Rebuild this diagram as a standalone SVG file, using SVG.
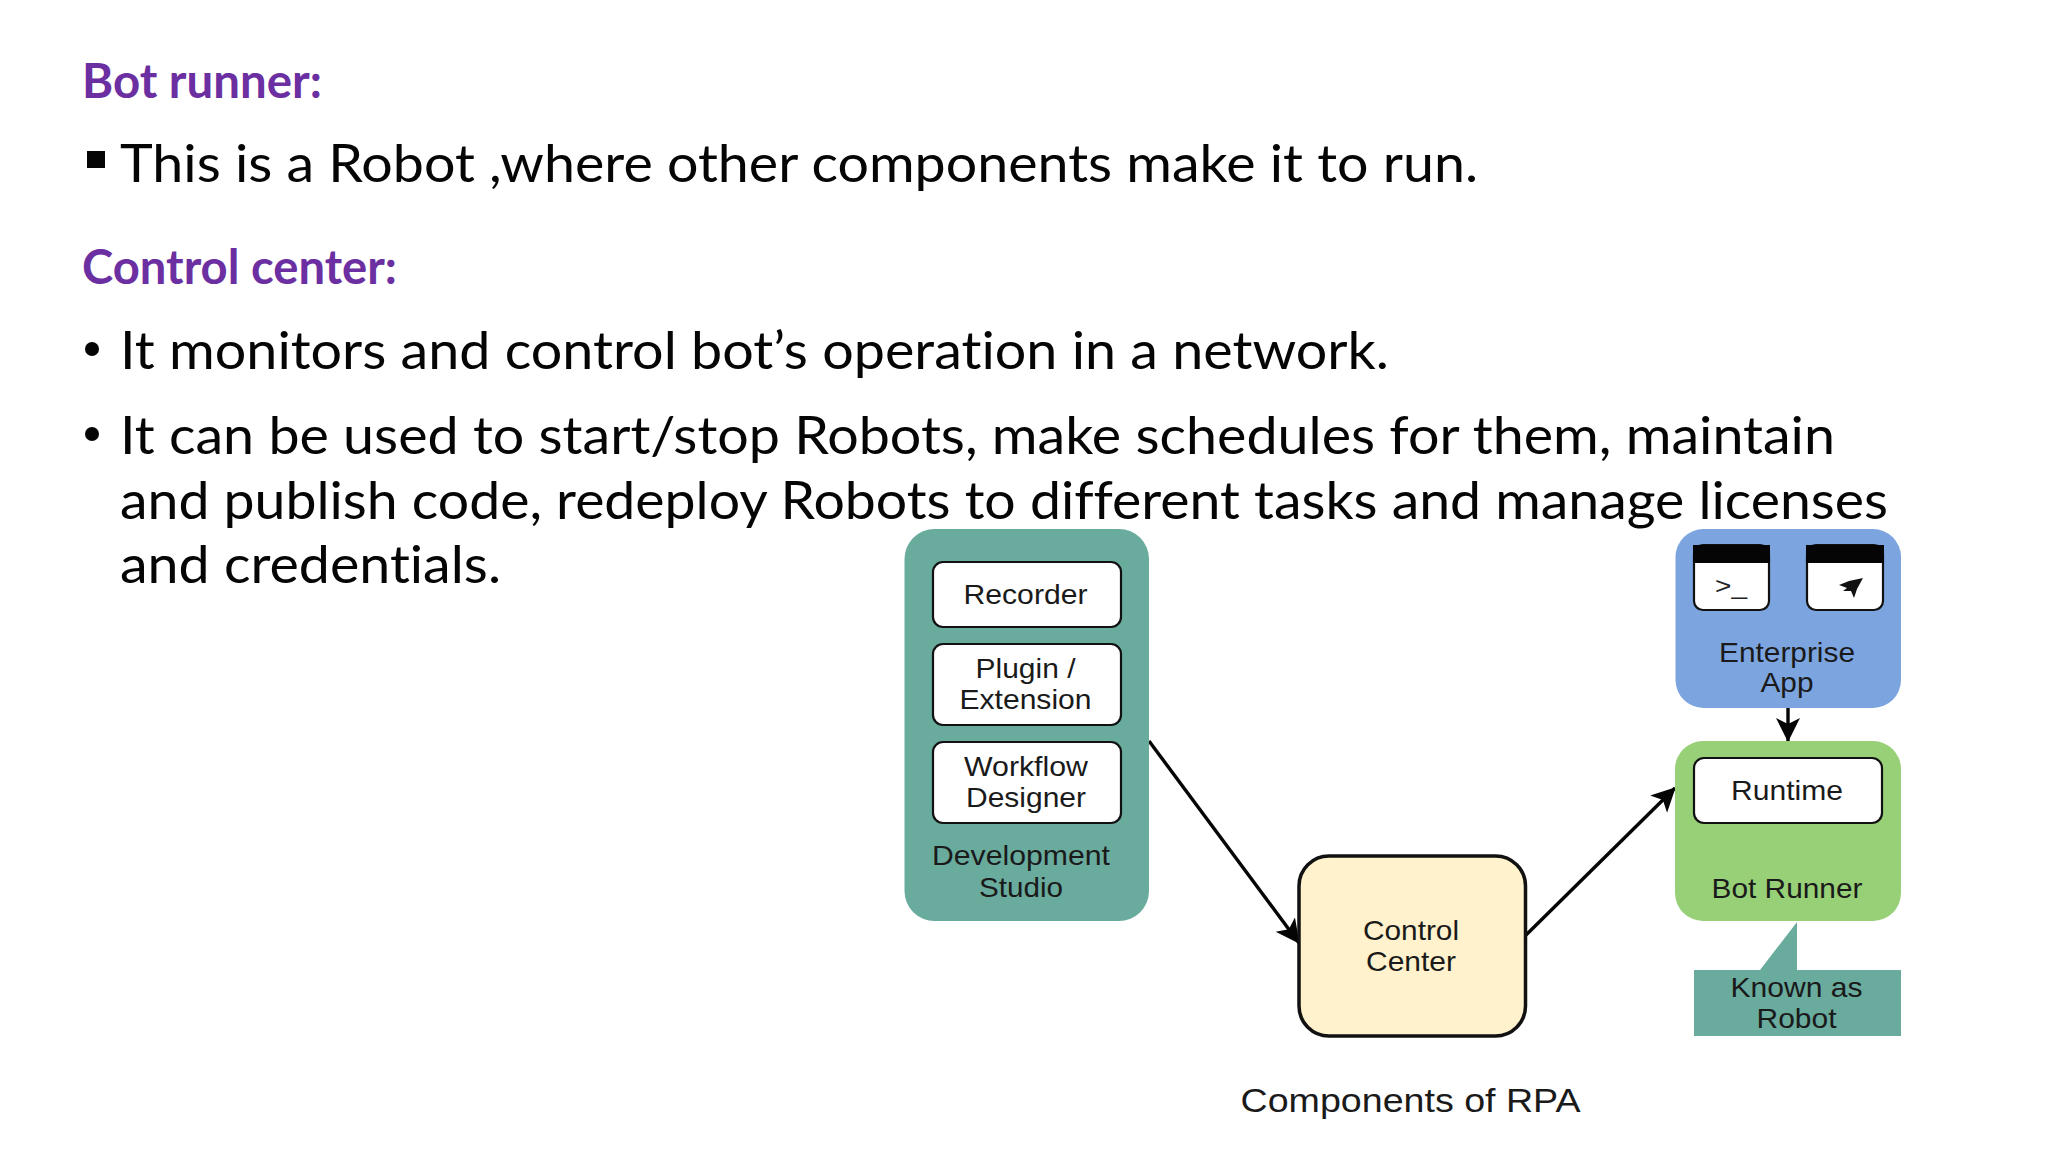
<svg xmlns="http://www.w3.org/2000/svg" width="2048" height="1152" viewBox="0 0 2048 1152">
<style>
.h{font-family:Lato,"Open Sans",sans-serif;font-weight:700;font-size:47px;fill:#6B2FA2;font-variant-ligatures:none}
.b{font-family:Lato,"Open Sans",sans-serif;font-size:53px;fill:#050505;font-variant-ligatures:none}
.t{font-family:"Liberation Sans",Arial,sans-serif;font-size:28.5px;fill:#1a1a1a;text-anchor:middle}
.w{fill:#fff;stroke:#111;stroke-width:2.2}
.c{fill:none;stroke:#050505;stroke-width:3.4}
</style>
<defs>
<marker id="a" markerUnits="userSpaceOnUse" markerWidth="28" markerHeight="26" refX="23" refY="12" orient="auto"><path d="M0 0L24 12L0 24L6 12Z" fill="#050505"/></marker>
</defs>
<rect width="2048" height="1152" fill="#fff"/>
<g id="text-content">
<text class="h" x="82" y="98" textLength="240" lengthAdjust="spacingAndGlyphs">Bot runner:</text>
<rect x="87" y="151" width="18" height="17" fill="#050505"/>
<text class="b" x="120" y="182" textLength="1358" lengthAdjust="spacingAndGlyphs">This is a Robot ,where other components make it to run.</text>
<text class="h" x="82" y="284" textLength="315" lengthAdjust="spacingAndGlyphs">Control center:</text>
<circle cx="92" cy="349" r="7" fill="#050505"/>
<text class="b" x="120" y="369" textLength="1269" lengthAdjust="spacingAndGlyphs">It monitors and control bot’s operation in a network.</text>
<circle cx="92" cy="434" r="7" fill="#050505"/>
<text class="b" x="120" y="454" textLength="1715" lengthAdjust="spacingAndGlyphs">It can be used to start/stop Robots, make schedules for them, maintain</text>
<text class="b" x="120" y="519" textLength="1768" lengthAdjust="spacingAndGlyphs">and publish code, redeploy Robots to different tasks and manage licenses</text>
<text class="b" x="120" y="583" textLength="381" lengthAdjust="spacingAndGlyphs">and credentials.</text>
</g>
<g id="connectors">
<line class="c" x1="1149" y1="741" x2="1299" y2="943" marker-end="url(#a)"/>
<line class="c" x1="1526" y1="935" x2="1675" y2="788" marker-end="url(#a)"/>
<line class="c" x1="1788" y1="708" x2="1788" y2="741" marker-end="url(#a)"/>
</g>
<g id="development-studio">
<rect x="904.500" y="529" width="244.500" height="392" rx="30" fill="#69AB9D"/>
<rect class="w" x="933" y="562" width="188" height="65" rx="10"/>
<text class="t" x="1025.500" y="604" textLength="124" lengthAdjust="spacingAndGlyphs">Recorder</text>
<rect class="w" x="933" y="644" width="188" height="81" rx="10"/>
<text class="t" x="1025.500" y="678" textLength="100" lengthAdjust="spacingAndGlyphs">Plugin /</text>
<text class="t" x="1025.500" y="709" textLength="132" lengthAdjust="spacingAndGlyphs">Extension</text>
<rect class="w" x="933" y="742" width="188" height="81" rx="10"/>
<text class="t" x="1026" y="776" textLength="124" lengthAdjust="spacingAndGlyphs">Workflow</text>
<text class="t" x="1026" y="807" textLength="120" lengthAdjust="spacingAndGlyphs">Designer</text>
<text class="t" x="1021" y="865" textLength="178" lengthAdjust="spacingAndGlyphs">Development</text>
<text class="t" x="1021" y="897" textLength="84" lengthAdjust="spacingAndGlyphs">Studio</text>
</g>
<g id="control-center">
<rect x="1299" y="856" width="226.500" height="180" rx="30" fill="#FFF2CC" stroke="#111" stroke-width="3.500"/>
<text class="t" x="1411" y="940" textLength="96" lengthAdjust="spacingAndGlyphs">Control</text>
<text class="t" x="1411" y="971" textLength="90" lengthAdjust="spacingAndGlyphs">Center</text>
</g>
<g id="enterprise-app">
<rect x="1675.500" y="529" width="225.500" height="179" rx="28" fill="#7CA5E0"/>
<rect class="w" x="1694" y="545" width="75" height="65" rx="9"/>
<rect x="1693" y="545" width="77" height="18" fill="#050505"/>
<rect class="w" x="1807" y="545" width="76" height="65" rx="9"/>
<rect x="1806" y="545" width="78" height="18" fill="#050505"/>
<text x="1715" y="594" font-family="Liberation Sans, sans-serif" font-size="24" fill="#222" textLength="32" lengthAdjust="spacingAndGlyphs">&gt;_</text>
<polygon points="1863,578 1849,581 1839,585 1847,588 1843,591 1851,591 1854,598 1857,589" fill="#111"/>
<text class="t" x="1787" y="662" textLength="136" lengthAdjust="spacingAndGlyphs">Enterprise</text>
<text class="t" x="1787" y="692" textLength="53" lengthAdjust="spacingAndGlyphs">App</text>
</g>
<g id="bot-runner">
<rect x="1675" y="741" width="226" height="180" rx="28" fill="#97D077"/>
<rect class="w" x="1694" y="758" width="188" height="65" rx="10"/>
<text class="t" x="1787" y="800" textLength="112" lengthAdjust="spacingAndGlyphs">Runtime</text>
<text class="t" x="1787" y="898" textLength="151" lengthAdjust="spacingAndGlyphs">Bot Runner</text>
</g>
<g id="known-as-robot">
<polygon points="1694,970 1760,970 1797,922 1797,970 1901,970 1901,1036 1694,1036" fill="#69AB9D"/>
<text class="t" x="1796.500" y="997" textLength="132" lengthAdjust="spacingAndGlyphs">Known as</text>
<text class="t" x="1796.500" y="1028" textLength="80" lengthAdjust="spacingAndGlyphs">Robot</text>
</g>
<text id="caption" x="1410.500" y="1112" font-family="Liberation Sans, sans-serif" font-size="33" fill="#1a1a1a" text-anchor="middle" textLength="340" lengthAdjust="spacingAndGlyphs">Components of RPA</text>
</svg>
